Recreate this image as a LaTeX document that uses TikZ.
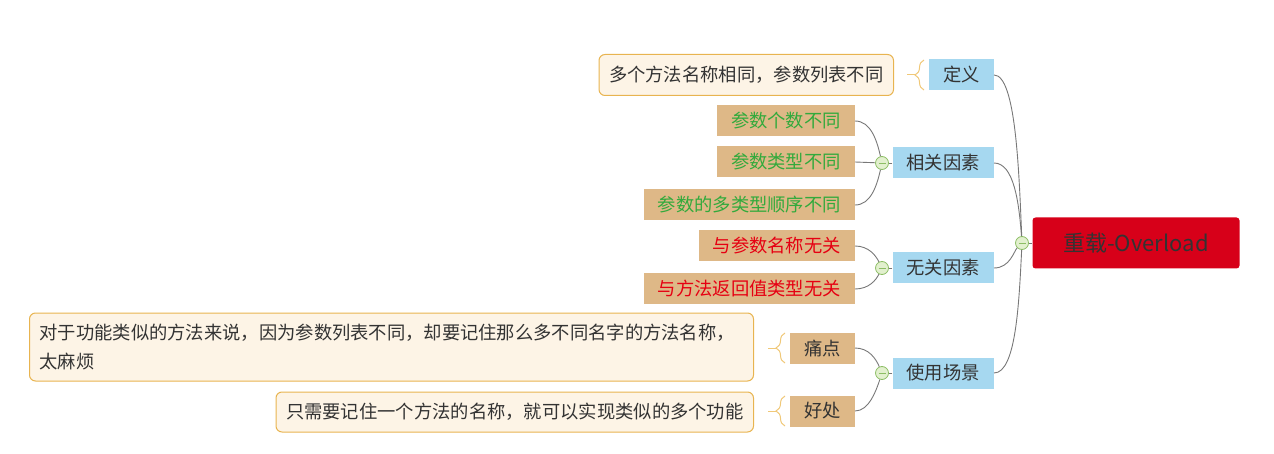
\documentclass[tikz,border=0pt]{standalone}
\usepackage{fontspec}
\setmainfont{Noto Sans CJK SC}
\usetikzlibrary{decorations.pathreplacing}
\begin{document}
\begin{tikzpicture}[x=1pt, y=-1pt,
every node/.style={font=\fontsize{18.3}{29}\selectfont, text=txtgray},
topic/.style={fill=topicblue, minimum height=31pt, inner xsep=14pt, inner ysep=0pt, anchor=east},
sub/.style={fill=subtan, minimum height=31pt, inner xsep=14pt, inner ysep=0pt, anchor=east},
note/.style={draw=noteline, fill=notefill, line width=1pt, rounded corners=6pt, inner xsep=10pt, anchor=east},
dot/.style={circle, draw=dotline, fill=dotfill, line width=0.8pt, minimum size=13pt, inner sep=0pt,
  path picture={\draw[dotline, line width=0.9pt] ([xshift=-3.5pt]path picture bounding box.center) -- ([xshift=3.5pt]path picture bounding box.center);}},
link/.style={draw=linkgray, line width=0.9pt},
bracket/.style={draw=bracecol, line width=1pt, decorate, decoration={brace, amplitude=9pt}}
]
\definecolor{txtgray}{RGB}{51, 51, 51}
\definecolor{topicblue}{RGB}{166, 216, 240}
\definecolor{subtan}{RGB}{222, 184, 135}
\definecolor{noteline}{RGB}{232, 180, 80}
\definecolor{notefill}{RGB}{253, 244, 230}
\definecolor{dotline}{RGB}{140, 190, 100}
\definecolor{dotfill}{RGB}{226, 240, 206}
\definecolor{linkgray}{RGB}{120, 120, 120}
\definecolor{bracecol}{RGB}{240, 200, 120}
\definecolor{rootred}{RGB}{215, 0, 25}
\definecolor{okgreen}{RGB}{50, 170, 60}
\definecolor{badred}{RGB}{230, 0, 18}
\useasboundingbox (0,0) rectangle (1274,454);

\node[fill=rootred, rounded corners=3pt, minimum width=207pt, minimum height=51pt, font=\fontsize{22}{26}\selectfont] (overload) at (1136,243) {重载-Overload};
\node[dot] (rootdot) at (1022,243) {};

\node[topic] (dingyi) at (994,75) {定义};
\node[topic] (xiangguan) at (994,163) {相关因素};
\node[topic] (wuguan) at (994,268) {无关因素};
\node[topic] (changjing) at (994,373) {使用场景};

\foreach \name/\y in {xg/163, wg/268, cj/373}{
\node[dot] (\name dot) at (882,\y) {};
}

\foreach \name/\y/\txt/\col in {cs1/121/参数个数不同/okgreen, cs2/162/参数类型不同/okgreen, cs3/205/参数的多类型顺序不同/okgreen, wg1/246/与参数名称无关/badred, wg2/289/与方法返回值类型无关/badred, tongdian/348/痛点/txtgray, haochu/411/好处/txtgray}{
\node[sub, text=\col] (\name) at (855,\y) {\txt};
}

\node[note, minimum height=41pt] (dynote) at (894,75) {多个方法名称相同，参数列表不同};
\node[note, minimum height=68pt, text width=704pt, align=left] (tdnote) at (754,347) {对于功能类似的方法来说，因为参数列表不同，却要记住那么多不同名字的方法名称，\\太麻烦};
\node[note, minimum height=40pt] (hcnote) at (754,412) {只需要记住一个方法的名称，就可以实现类似的多个功能};

\foreach \name/\x/\y in {dy/924/75, td/785/348, hc/785/411}{
\draw[bracket] (\x,\y+15) -- (\x,\y-15);
\coordinate (\name tip) at (\x-9,\y);
\coordinate (\name hook) at (\x-17,\y);
\draw[bracecol, line width=1pt] (\name tip) -- (\name hook);
}

\draw[link] (rootdot) -- (overload);
\draw[link] (dingyi.east) .. controls +(22,0) and +(-3,-70) .. (rootdot);
\draw[link] (xiangguan.east) .. controls +(20,0) and +(-3,-40) .. (rootdot);
\draw[link] (wuguan.east) .. controls +(16,0) and +(-8,8) .. (rootdot);
\draw[link] (changjing.east) .. controls +(22,0) and +(-3,60) .. (rootdot);

\draw[link] (xiangguan) -- (xgdot);
\draw[link] (wuguan) -- (wgdot);
\draw[link] (changjing) -- (cjdot);

\draw[link] (cs1.east) .. controls +(16,0) and +(-5,-22) .. (xgdot);
\draw[link] (cs2.east) -- (xgdot);
\draw[link] (cs3.east) .. controls +(16,0) and +(-5,22) .. (xgdot);
\draw[link] (wg1.east) .. controls +(14,0) and +(-6,-12) .. (wgdot);
\draw[link] (wg2.east) .. controls +(14,0) and +(-6,12) .. (wgdot);
\draw[link] (tongdian.east) .. controls +(14,0) and +(-6,-14) .. (cjdot);
\draw[link] (haochu.east) .. controls +(14,0) and +(-6,18) .. (cjdot);
\end{tikzpicture}
\end{document}
